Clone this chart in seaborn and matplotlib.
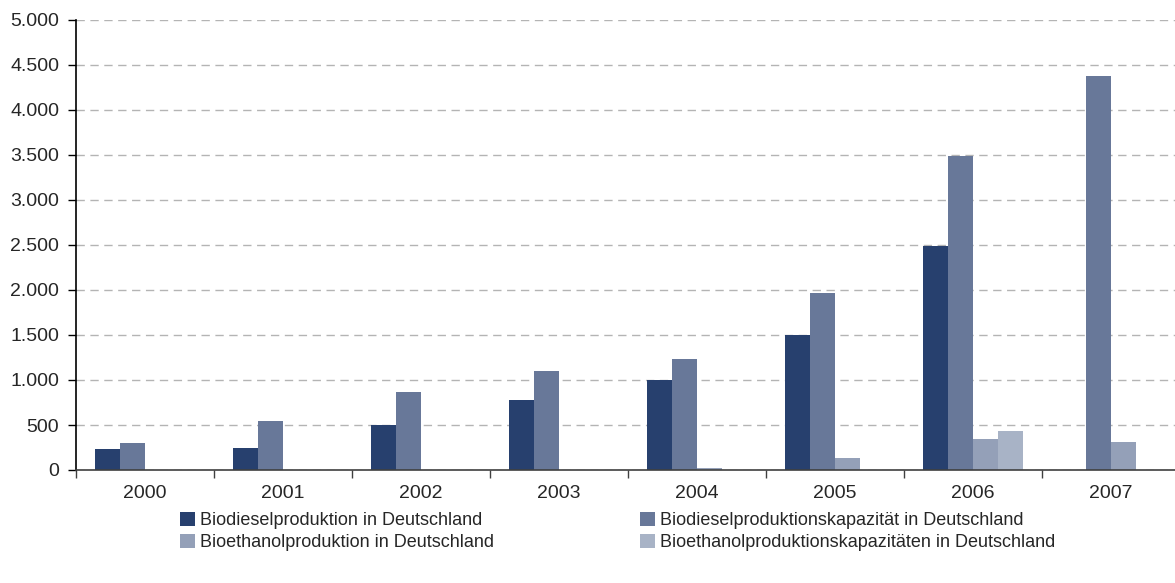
import matplotlib
matplotlib.use("Agg")
import matplotlib.pyplot as plt
import matplotlib.ticker as mticker
import numpy as np
import pandas as pd
import seaborn as sns

years = ["2000", "2001", "2002", "2003", "2004", "2005", "2006", "2007"]
series = [
    "Biodieselproduktion in Deutschland",
    "Biodieselproduktionskapazität in Deutschland",
    "Bioethanolproduktion in Deutschland",
    "Bioethanolproduktionskapazitäten in Deutschland",
]
biodiesel_prod = [230, 250, 500, 780, 1000, 1500, 2490, 0]
biodiesel_kap = [300, 550, 870, 1100, 1230, 1970, 3490, 4380]
ethanol_prod = [0, 0, 0, 0, 25, 135, 345, 310]
ethanol_kap = [0, 0, 0, 0, 0, 0, 435, 0]
colors = ["#27406E", "#687899", "#94A0B8", "#A8B3C6"]

rows = []
for s, vals in zip(series, [biodiesel_prod, biodiesel_kap, ethanol_prod, ethanol_kap]):
    for y, v in zip(years, vals):
        rows.append({"Jahr": y, "Reihe": s, "Wert": v})
df = pd.DataFrame(rows)

sns.set_style("white")
plt.rcParams["font.family"] = ["Liberation Sans", "DejaVu Sans"]

fig = plt.figure(figsize=(11.75, 5.83), dpi=100)
# the plot area runs slightly past the right edge of the picture, as in the reference
ax = fig.add_axes([76 / 1175, 1 - 470 / 583, (1180 - 76) / 1175, 450 / 583])

sns.barplot(data=df, x="Jahr", y="Wert", hue="Reihe", order=years, hue_order=series,
            palette=colors, width=0.725, gap=0, saturation=1, errorbar=None,
            linewidth=0, ax=ax, legend=True)

ax.set_xlim(-0.5, 7.5)
ax.set_ylim(0, 5000)
ax.set_yticks(np.arange(0, 5001, 500))
ax.yaxis.set_major_formatter(mticker.FuncFormatter(lambda v, p: f"{int(v):,}".replace(",", ".")))
ax.set_xlabel("")
ax.set_ylabel("")

ax.yaxis.grid(True, color="#b4b4b4", linestyle=(0, (6, 4)), linewidth=1)
ax.set_axisbelow(True)
ax.xaxis.grid(False)

for side in ["top", "right"]:
    ax.spines[side].set_visible(False)
ax.spines["left"].set_color("#000000")
ax.spines["left"].set_linewidth(1.2)
ax.spines["bottom"].set_color("#404040")
ax.spines["bottom"].set_linewidth(1.2)

ax.tick_params(axis="y", which="major", left=True, length=6, width=1, color="#000000",
               labelsize=14, pad=6)
ax.tick_params(axis="x", which="major", bottom=False, length=0, labelsize=14, pad=11)
ax.set_xticks(np.arange(-0.5, 8, 1), minor=True)
ax.tick_params(axis="x", which="minor", bottom=True, length=6, width=1, color="#404040")

handles, labels = ax.get_legend_handles_labels()
ax.get_legend().remove()
order = [0, 2, 1, 3]  # row-wise order as in the reference legend
fig.legend([handles[i] for i in order], [labels[i] for i in order],
           loc="upper left", bbox_to_anchor=(173 / 1175, 1 - 505 / 583),
           ncol=2, frameon=False, fontsize=13, handlelength=0.8, handleheight=0.8,
           handletextpad=0.3, columnspacing=8.1, labelspacing=0.25, borderaxespad=0)

fig.savefig("out.png", dpi=100)
